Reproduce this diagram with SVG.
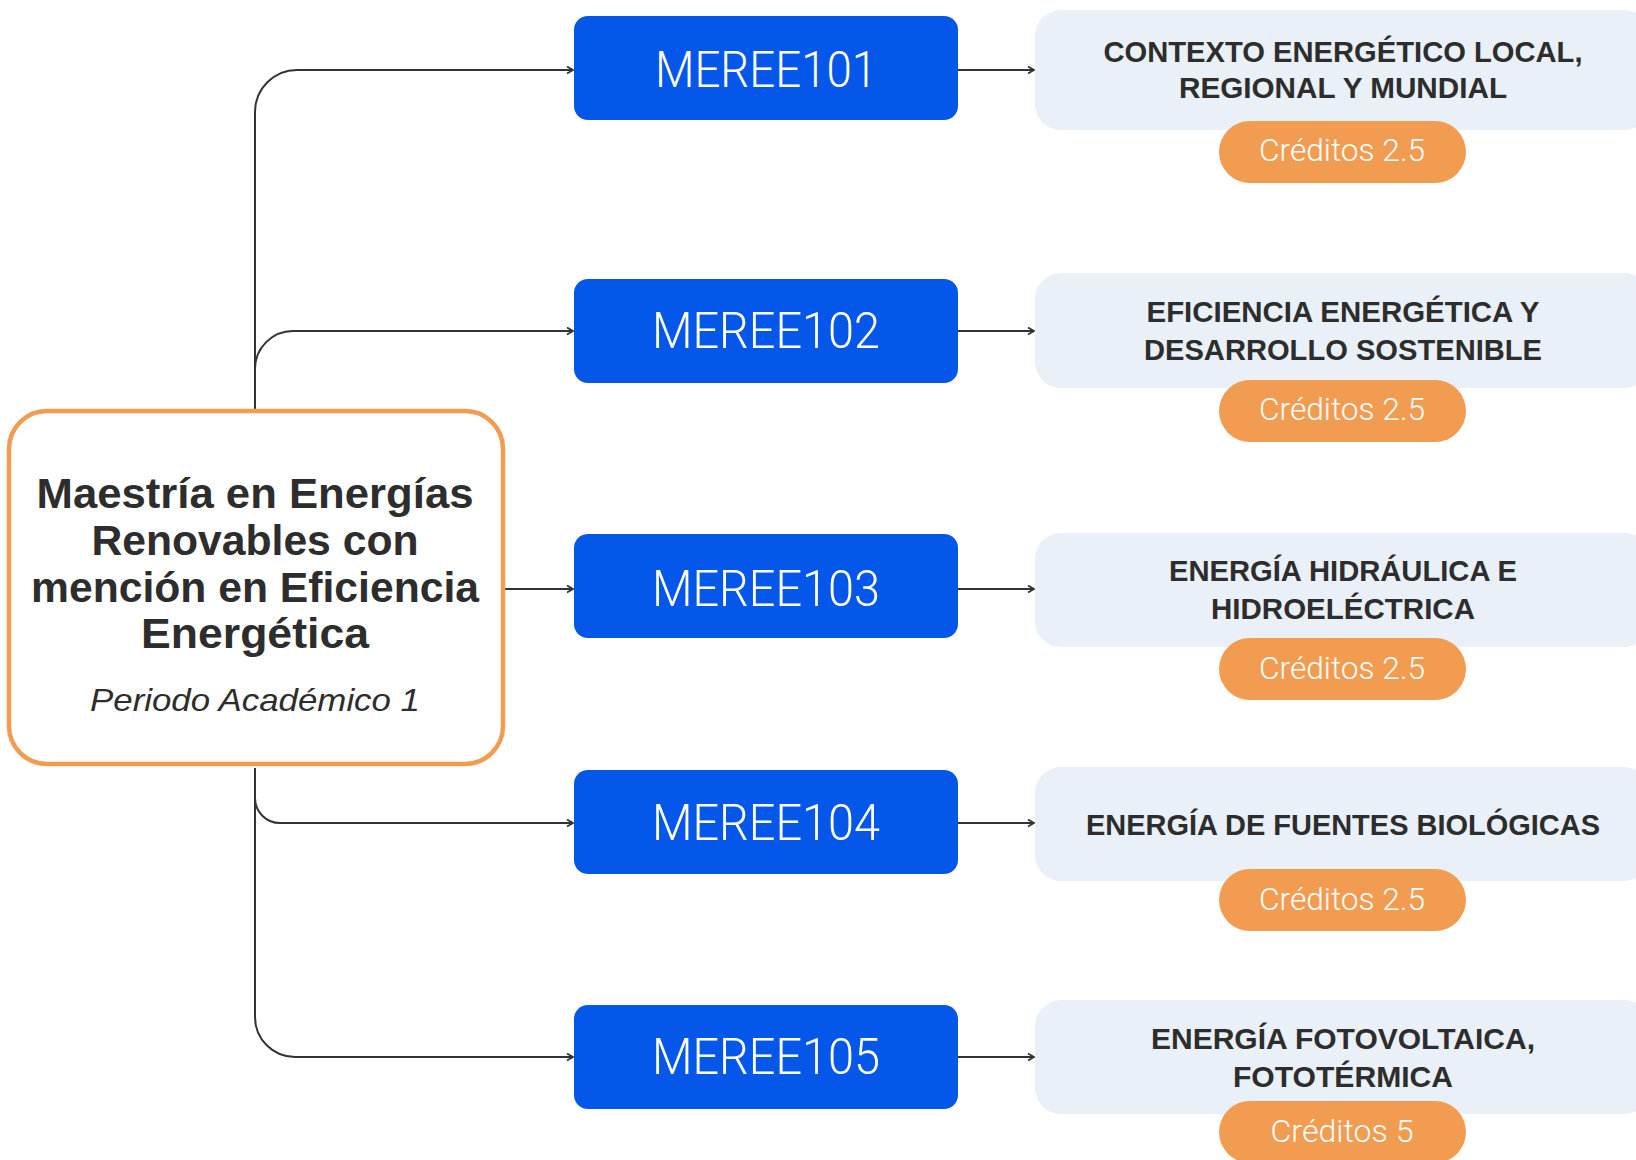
<svg xmlns="http://www.w3.org/2000/svg" width="1636" height="1160" viewBox="0 0 1636 1160">
<style>
.conn{fill:none;stroke:#333333;stroke-width:2}
.code{fill:#0457E9}
.codet{font-family:Roboto,"Liberation Sans",sans-serif;font-weight:300;font-size:50px;fill:#ffffff;text-anchor:middle}
.card{fill:#E9F0F7}
.cardt{font-family:"Liberation Sans",Roboto,sans-serif;font-weight:bold;font-size:30px;fill:#2d2d2d;text-anchor:middle}
.pill{fill:#F19C50}
.pillt{font-family:Roboto,"Liberation Sans",sans-serif;font-weight:300;font-size:32px;fill:#ffffff;text-anchor:middle}
.title{font-family:"Liberation Sans",Roboto,sans-serif;font-weight:bold;font-size:42px;fill:#2d2d2d;text-anchor:middle}
.sub{font-family:"Liberation Sans",Roboto,sans-serif;font-style:italic;font-size:32px;fill:#2d2d2d;text-anchor:middle}
</style>
<defs>
<marker id="arr" markerUnits="userSpaceOnUse" markerWidth="10" markerHeight="10" refX="7" refY="4" orient="auto">
<path d="M1,0.5 L7,4 L1,7.5" fill="none" stroke="#333333" stroke-width="1.8"/>
</marker>
</defs>
<rect width="1636" height="1160" fill="#ffffff"/>
<g id="connectors">
<path class="conn" d="M255,410 V112 A42 42 0 0 1 297 70 H573" marker-end="url(#arr)"/>
<path class="conn" d="M255,410 V369 A38 38 0 0 1 293 331 H573" marker-end="url(#arr)"/>
<path class="conn" d="M505,589 H573" marker-end="url(#arr)"/>
<path class="conn" d="M255,768 V798 A25 25 0 0 0 280 823 H573" marker-end="url(#arr)"/>
<path class="conn" d="M255,768 V1017 A40 40 0 0 0 295 1057 H573" marker-end="url(#arr)"/>
<path class="conn" d="M958,70 H1034" marker-end="url(#arr)"/>
<path class="conn" d="M958,331 H1034" marker-end="url(#arr)"/>
<path class="conn" d="M958,589 H1034" marker-end="url(#arr)"/>
<path class="conn" d="M958,823 H1034" marker-end="url(#arr)"/>
<path class="conn" d="M958,1057 H1034" marker-end="url(#arr)"/>
</g>
<g id="main">
<rect x="9" y="411" width="494" height="353" rx="38" fill="#ffffff" stroke="#F19C50" stroke-width="4.5"/>
<text class="title" x="255" y="508" textLength="437" lengthAdjust="spacingAndGlyphs">Maestría en Energías</text>
<text class="title" x="255" y="555" textLength="327" lengthAdjust="spacingAndGlyphs">Renovables con</text>
<text class="title" x="255" y="602" textLength="448" lengthAdjust="spacingAndGlyphs">mención en Eficiencia</text>
<text class="title" x="255" y="648" textLength="228" lengthAdjust="spacingAndGlyphs">Energética</text>
<text class="sub" x="255" y="711" textLength="330" lengthAdjust="spacingAndGlyphs">Periodo Académico 1</text>
</g>
<g id="meree101">
<rect class="code" x="574" y="16" width="384" height="104" rx="14"/>
<text class="codet" x="766" y="87" textLength="222" lengthAdjust="spacingAndGlyphs">MEREE101</text>
</g>
<g id="meree102">
<rect class="code" x="574" y="279" width="384" height="104" rx="14"/>
<text class="codet" x="766" y="348" textLength="228" lengthAdjust="spacingAndGlyphs">MEREE102</text>
</g>
<g id="meree103">
<rect class="code" x="574" y="534" width="384" height="104" rx="14"/>
<text class="codet" x="766" y="606" textLength="228" lengthAdjust="spacingAndGlyphs">MEREE103</text>
</g>
<g id="meree104">
<rect class="code" x="574" y="770" width="384" height="104" rx="14"/>
<text class="codet" x="766" y="840" textLength="228" lengthAdjust="spacingAndGlyphs">MEREE104</text>
</g>
<g id="meree105">
<rect class="code" x="574" y="1005" width="384" height="104" rx="14"/>
<text class="codet" x="766" y="1074" textLength="228" lengthAdjust="spacingAndGlyphs">MEREE105</text>
</g>
<g id="course1">
<rect class="card" x="1035" y="10" width="615" height="120" rx="26"/>
<text class="cardt" x="1343" y="62" textLength="479" lengthAdjust="spacingAndGlyphs">CONTEXTO ENERGÉTICO LOCAL,</text>
<text class="cardt" x="1343" y="98" textLength="328" lengthAdjust="spacingAndGlyphs">REGIONAL Y MUNDIAL</text>
<rect class="pill" x="1219" y="121" width="247" height="62" rx="31"/>
<text class="pillt" x="1342" y="161" textLength="166" lengthAdjust="spacingAndGlyphs">Créditos 2.5</text>
</g>
<g id="course2">
<rect class="card" x="1035" y="273" width="615" height="115" rx="26"/>
<text class="cardt" x="1343" y="322" textLength="393" lengthAdjust="spacingAndGlyphs">EFICIENCIA ENERGÉTICA Y</text>
<text class="cardt" x="1343" y="360" textLength="398" lengthAdjust="spacingAndGlyphs">DESARROLLO SOSTENIBLE</text>
<rect class="pill" x="1219" y="380" width="247" height="62" rx="31"/>
<text class="pillt" x="1342" y="420" textLength="166" lengthAdjust="spacingAndGlyphs">Créditos 2.5</text>
</g>
<g id="course3">
<rect class="card" x="1035" y="533" width="615" height="114" rx="26"/>
<text class="cardt" x="1343" y="581" textLength="348" lengthAdjust="spacingAndGlyphs">ENERGÍA HIDRÁULICA E</text>
<text class="cardt" x="1343" y="619" textLength="264" lengthAdjust="spacingAndGlyphs">HIDROELÉCTRICA</text>
<rect class="pill" x="1219" y="638" width="247" height="62" rx="31"/>
<text class="pillt" x="1342" y="679" textLength="166" lengthAdjust="spacingAndGlyphs">Créditos 2.5</text>
</g>
<g id="course4">
<rect class="card" x="1035" y="767" width="615" height="114" rx="26"/>
<text class="cardt" x="1343" y="835" textLength="514" lengthAdjust="spacingAndGlyphs">ENERGÍA DE FUENTES BIOLÓGICAS</text>
<rect class="pill" x="1219" y="869" width="247" height="62" rx="31"/>
<text class="pillt" x="1342" y="910" textLength="166" lengthAdjust="spacingAndGlyphs">Créditos 2.5</text>
</g>
<g id="course5">
<rect class="card" x="1035" y="1000" width="615" height="114" rx="26"/>
<text class="cardt" x="1343" y="1049" textLength="384" lengthAdjust="spacingAndGlyphs">ENERGÍA FOTOVOLTAICA,</text>
<text class="cardt" x="1343" y="1087" textLength="220" lengthAdjust="spacingAndGlyphs">FOTOTÉRMICA</text>
<rect class="pill" x="1219" y="1101" width="247" height="62" rx="31"/>
<text class="pillt" x="1342" y="1142" textLength="143" lengthAdjust="spacingAndGlyphs">Créditos 5</text>
</g>
</svg>
